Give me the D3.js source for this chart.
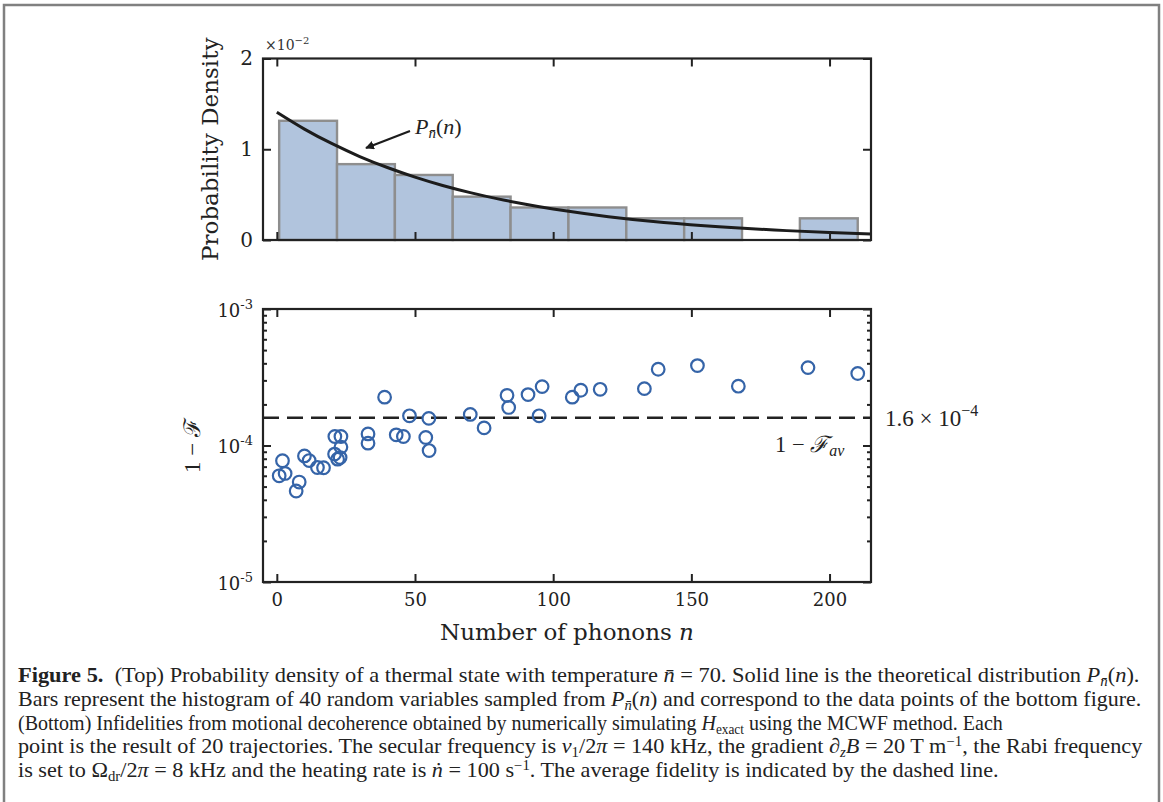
<!DOCTYPE html>
<html lang="en">
<head>
<meta charset="utf-8">
<title>Figure 5 - thermal state and infidelities</title>
<script src="https://d3js.org/d3.v7.min.js"></script>
<style>
  body { margin: 0; background: #fff; }
  .cap text { white-space: pre; }
</style>
</head>
<body>
<script>
// phonon number n of each of the 40 simulated points (bottom) - the histogram above is built from them
var phonons = [0.85, 2.05, 3.0, 7.0, 8.1, 10.0, 11.7, 14.7, 16.9, 21.0,
               20.9, 23.2, 23.2, 22.0, 22.9, 33.0, 33.0, 39.0, 43.2, 45.8,
               48.0, 53.9, 55.0, 55.1, 70.0, 75.0, 83.3, 83.9, 90.9, 94.9,
               96.0, 106.9, 110.0, 117.0, 133.0, 138.0, 152.2, 167.0, 192.2, 210.2];
// 1 - F for each point
var infidelity = [6.0e-5, 7.73e-5, 6.24e-5, 4.64e-5, 5.40e-5, 8.39e-5, 7.76e-5, 6.90e-5, 6.87e-5, 1.164e-4,
                  8.65e-5, 1.164e-4, 9.73e-5, 7.94e-5, 8.16e-5, 1.216e-4, 1.04e-4, 2.26e-4, 1.197e-4, 1.164e-4,
                  1.65e-4, 1.145e-4, 1.58e-4, 9.18e-5, 1.69e-4, 1.346e-4, 2.33e-4, 1.90e-4, 2.36e-4, 1.65e-4,
                  2.70e-4, 2.26e-4, 2.54e-4, 2.58e-4, 2.61e-4, 3.62e-4, 3.85e-4, 2.72e-4, 3.72e-4, 3.37e-4];
var avgInfidelity = 1.6e-4;
var nBins = 10;

// theoretical distribution P_nbar(n), in units of 1e-2
var curveN = [0, 10, 20, 30, 40, 50, 60, 70, 80, 90, 100, 120, 140, 160, 180, 200, 215];
var curveP = [1.408, 1.222, 1.061, 0.920, 0.799, 0.693, 0.601, 0.522, 0.453, 0.393, 0.341,
              0.257, 0.193, 0.146, 0.110, 0.083, 0.067];

var xTicks = [0, 50, 100, 150, 200];
var topYTicks = [0, 1, 2];
var logMajor = [1e-5, 1e-4, 1e-3];
var logMinor = [2e-5, 3e-5, 4e-5, 5e-5, 6e-5, 7e-5, 8e-5, 9e-5,
                2e-4, 3e-4, 4e-4, 5e-4, 6e-4, 7e-4, 8e-4, 9e-4];

var captionLines = [
  [["Figure 5.", "bold"], ["  (Top) Probability density of a thermal state with temperature ", ""], ["n\u0304", "it"],
   [" = 70. Solid line is the theoretical distribution ", ""], ["P", "it"], ["n\u0304", "it sub"], ["(", ""], ["n", "it"], [").", ""]],
  [["Bars represent the histogram of 40 random variables sampled from ", ""], ["P", "it"], ["n\u0304", "it sub"], ["(", ""], ["n", "it"],
   [") and correspond to the data points of the bottom figure.", ""]],
  [["(Bottom) Infidelities from motional decoherence obtained by numerically simulating ", ""], ["H", "it"], ["exact", "sub"],
   [" using the MCWF method. Each", ""]],
  [["point is the result of 20 trajectories. The secular frequency is ", ""], ["\u03bd", "it"], ["1", "sub"], ["/2", ""], ["\u03c0", "it"],
   [" = 140 kHz, the gradient \u2202", ""], ["z", "it sub"], ["B", "it"], [" = 20 T m", ""], ["\u22121", "sup"], [", the Rabi frequency", ""]],
  [["is set to \u03a9", ""], ["dr", "sub"], ["/2", ""], ["\u03c0", "it"], [" = 8 kHz and the heating rate is ", ""], ["\u1e45", "it"],
   [" = 100 s", ""], ["\u22121", "sup"], [". The average fidelity is indicated by the dashed line.", ""]]
];
// line widths as printed; the last line keeps the common compression
var captionWidths = [1122, 1124, 985, 1125, null];

var W = 1163, H = 802;
var svg = d3.select("body").append("svg").attr("width", W).attr("height", H)
  .attr("font-family", "DejaVu Serif").attr("fill", "#222");

// page border
svg.append("rect").attr("x", 4).attr("y", 5).attr("width", 1155).attr("height", 900)
  .attr("fill", "none").attr("stroke", "#808080").attr("stroke-width", 2.5);

var left = 263, right = 871;
var x = d3.scaleLinear().domain([-5, 215]).range([left, right]);

// ---------- top panel ----------
var topT = 58.5, topB = 240;
var yTop = d3.scaleLinear().domain([0, 2]).range([topB, topT]);

var lo = d3.min(phonons), hi = d3.max(phonons);
var edges = d3.range(1, nBins).map(function(i) { return lo + i * (hi - lo) / nBins; });
var bins = d3.bin().domain([lo, hi]).thresholds(edges)(phonons);

function density(b) { return 100 * b.length / (phonons.length * (b.x1 - b.x0)); }

svg.append("g").selectAll("rect")
  .data(bins.filter(function(b) { return b.length > 0; }))
  .enter().append("rect")
  .attr("x", function(b) { return x(b.x0); })
  .attr("width", function(b) { return x(b.x1) - x(b.x0); })
  .attr("y", function(b) { return yTop(density(b)); })
  .attr("height", function(b) { return topB - yTop(density(b)); })
  .attr("fill", "#b1c4dd")
  .attr("stroke", "#8e8e8e")
  .attr("stroke-width", 2.4);

var line = d3.line()
  .x(function(d, i) { return x(curveN[i]); })
  .y(function(d) { return yTop(d); })
  .curve(d3.curveNatural);

svg.append("path").datum(curveP)
  .attr("d", line)
  .attr("fill", "none")
  .attr("stroke", "#1c1c1c")
  .attr("stroke-width", 3);

function frameAxes(yScale, yTicks, top, bottom) {
  var g = svg.append("g");
  g.append("g").attr("class", "xb").attr("transform", "translate(0," + bottom + ")")
    .call(d3.axisBottom(x).tickValues(xTicks).tickSizeInner(-8).tickSizeOuter(0).tickPadding(11));
  g.append("g").attr("transform", "translate(0," + top + ")")
    .call(d3.axisTop(x).tickValues(xTicks).tickSizeInner(-8).tickSizeOuter(0).tickFormat(""));
  g.append("g").attr("class", "yl").attr("transform", "translate(" + left + ",0)")
    .call(d3.axisLeft(yScale).tickValues(yTicks).tickSizeInner(-8).tickSizeOuter(0).tickPadding(10).tickFormat(d3.format("d")));
  g.append("g").attr("transform", "translate(" + right + ",0)")
    .call(d3.axisRight(yScale).tickValues(yTicks).tickSizeInner(-8).tickSizeOuter(0).tickFormat(""));
  g.selectAll(".domain").remove();
  g.selectAll(".tick line").attr("stroke", "#222").attr("stroke-width", 2);
  g.selectAll("g").attr("font-family", null).attr("font-size", 18);
  g.selectAll(".tick text").attr("fill", "#222");
  svg.append("rect").attr("x", left).attr("y", top).attr("width", right - left).attr("height", bottom - top)
    .attr("fill", "none").attr("stroke", "#222").attr("stroke-width", 2.2);
  return g;
}

var gTop = frameAxes(yTop, topYTicks, topT, topB);
gTop.select(".xb").selectAll(".tick text").remove();   // no x labels on top panel
gTop.select(".yl").selectAll(".tick text").attr("font-size", 20);

var ex = svg.append("text").attr("x", 265).attr("y", 50).attr("font-size", 14).attr("fill", "#333");
ex.append("tspan").text("\u00d710");
ex.append("tspan").attr("dy", -6).attr("font-size", 10).text("\u22122");

svg.append("text")
  .attr("transform", "translate(218," + ((topT + topB) / 2) + ") rotate(-90)")
  .attr("text-anchor", "middle").attr("font-size", 23)
  .text("Probability Density");

// arrow + label for P_nbar(n)
svg.append("defs").append("marker")
  .attr("id", "head").attr("viewBox", "0 0 10 10").attr("refX", 9).attr("refY", 5)
  .attr("markerWidth", 4).attr("markerHeight", 4).attr("orient", "auto")
  .append("path").attr("d", "M0,0 L10,5 L0,10 z").attr("fill", "#1c1c1c");
svg.append("line").attr("x1", 410).attr("y1", 131).attr("x2", 366).attr("y2", 148)
  .attr("stroke", "#1c1c1c").attr("stroke-width", 2.2).attr("marker-end", "url(#head)");
var pl = svg.append("text").attr("x", 415).attr("y", 134).attr("font-size", 22)
  .attr("font-family", "Liberation Serif");
pl.append("tspan").attr("font-style", "italic").text("P");
pl.append("tspan").attr("font-style", "italic").attr("font-size", 15).attr("dy", 4).text("n\u0304");
pl.append("tspan").attr("dy", -4).text("(");
pl.append("tspan").attr("font-style", "italic").text("n");
pl.append("tspan").text(")");

// ---------- bottom panel ----------
var botT = 309, botB = 582;
var yLog = d3.scaleLog().domain([1e-5, 1e-3]).range([botB, botT]);

svg.append("line")
  .attr("x1", left).attr("x2", right)
  .attr("y1", yLog(avgInfidelity)).attr("y2", yLog(avgInfidelity))
  .attr("stroke", "#222").attr("stroke-width", 2.5).attr("stroke-dasharray", "16,8");

svg.append("g").selectAll("circle")
  .data(phonons)
  .enter().append("circle")
  .attr("cx", function(d) { return x(d); })
  .attr("cy", function(d, i) { return yLog(infidelity[i]); })
  .attr("r", 6.3)
  .attr("fill", "none")
  .attr("stroke", "#3564a8")
  .attr("stroke-width", 2.2);

var gBot = frameAxes(yLog, logMajor, botT, botB);
gBot.append("g").attr("transform", "translate(" + left + ",0)")
  .call(d3.axisLeft(yLog).tickValues(logMinor).tickSizeInner(-4).tickSizeOuter(0).tickFormat(""));
gBot.append("g").attr("transform", "translate(" + right + ",0)")
  .call(d3.axisRight(yLog).tickValues(logMinor).tickSizeInner(-4).tickSizeOuter(0).tickFormat(""));
gBot.selectAll(".domain").remove();
gBot.selectAll(".tick line").attr("stroke", "#222").attr("stroke-width", 2);

// log labels written as 10^k
gBot.select(".yl").selectAll(".tick text").each(function(d) {
  var t = d3.select(this).text("").attr("dy", "0.4em");
  t.append("tspan").text("10");
  t.append("tspan").attr("dy", -8).attr("font-size", 13).text("-" + Math.round(-Math.log10(d)));
});

svg.append("text")
  .attr("transform", "translate(200," + ((botT + botB) / 2) + ") rotate(-90)")
  .attr("text-anchor", "middle").attr("font-size", 23).attr("font-family", "Liberation Serif")
  .text("1 \u2212 \u2131");

var av = svg.append("text").attr("x", 885).attr("y", yLog(avgInfidelity) + 8)
  .attr("font-size", 23).attr("font-family", "Liberation Serif");
av.append("tspan").text("1.6 \u00d7 10");
av.append("tspan").attr("dy", -10).attr("font-size", 16).text("\u22124");

var fav = svg.append("text").attr("x", 775).attr("y", 452)
  .attr("font-size", 22.5).attr("font-family", "Liberation Serif");
fav.append("tspan").text("1 \u2212 ");
fav.append("tspan").attr("font-style", "italic").text("\u2131");
fav.append("tspan").attr("font-style", "italic").attr("font-size", 16).attr("dy", 4).text("av");

var xl = svg.append("text")
  .attr("x", (left + right) / 2).attr("y", 640)
  .attr("text-anchor", "middle").attr("font-size", 23)
  .text("Number of phonons ");
xl.append("tspan").attr("font-style", "italic").text("n");

// ---------- caption ----------
var cap = svg.append("g").attr("class", "cap").attr("font-family", "Liberation Serif");
var capTexts = captionLines.map(function(segs) {
  var t = cap.append("text").attr("font-size", 21);
  var shift = 0;
  segs.forEach(function(s) {
    var opt = s[1].split(" ");
    var sp = t.append("tspan").text(s[0]);
    var want = opt.indexOf("sub") >= 0 ? 4 : (opt.indexOf("sup") >= 0 ? -7 : 0);
    if (want !== shift) { sp.attr("dy", want - shift); shift = want; }
    if (opt.indexOf("bold") >= 0) sp.attr("font-weight", "bold");
    if (opt.indexOf("it") >= 0) sp.attr("font-style", "italic");
    if (want !== 0) sp.attr("font-size", 14);
  });
  return t;
});
var ks = capTexts.map(function(t, i) {
  return captionWidths[i] ? captionWidths[i] / t.node().getComputedTextLength() : null;
});
var kMean = d3.mean([ks[0], ks[1], ks[3]]);
capTexts.forEach(function(t, i) {
  var k = ks[i] || kMean;
  t.attr("transform", "translate(18," + (682 + i * 23.8) + ") scale(" + k + ",1)");
});
</script>
</body>
</html>
